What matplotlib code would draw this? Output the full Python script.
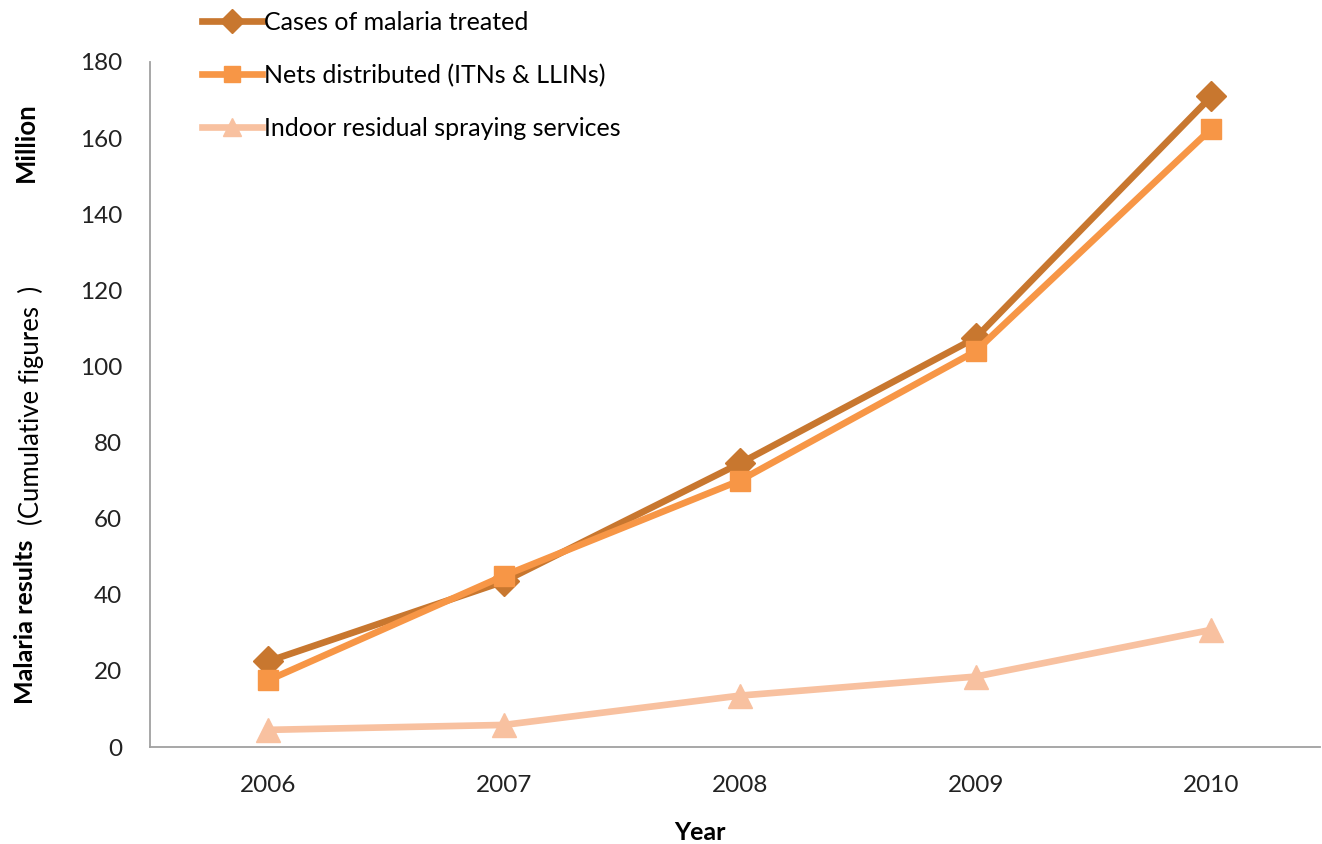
import matplotlib
matplotlib.use("Agg")
import matplotlib.pyplot as plt

years = [2006, 2007, 2008, 2009, 2010]
cases_treated = [22.5, 43.5, 74.5, 107.5, 171.0]
nets_distributed = [17.5, 45.0, 70.0, 104.0, 162.5]
indoor_spraying = [4.5, 5.8, 13.5, 18.5, 30.8]

series_names = ["Cases of malaria treated",
                "Nets distributed (ITNs & LLINs)",
                "Indoor residual spraying services"]

plt.rcParams['font.family'] = ['Lato', 'DejaVu Sans']

fig = plt.figure(figsize=(13.22, 8.44), dpi=100)
ax = fig.add_axes([150 / 1322, 1 - 747 / 844, 1170 / 1322, (747 - 62) / 844])

ax.plot(years, cases_treated, color='#C8772F', lw=4.8, marker='D', ms=15,
        label=series_names[0], zorder=3)
ax.plot(years, nets_distributed, color='#F79646', lw=4.8, marker='s', ms=15,
        label=series_names[1], zorder=4)
ax.plot(years, indoor_spraying, color='#F8C1A0', lw=4.8, marker='^', ms=17,
        label=series_names[2], zorder=2)

ax.set_xlim(2005.5, 2010.46)
ax.set_ylim(0, 180)
ax.set_yticks(range(0, 181, 20))
ax.set_xticks(years)
ax.tick_params(length=0, labelsize=17.5, colors='#222222')
ax.tick_params(axis='x', pad=20)
ax.tick_params(axis='y', pad=20)
for s in ['top', 'right']:
    ax.spines[s].set_visible(False)
for s in ['left', 'bottom']:
    ax.spines[s].set_color('#A0A0A0')
    ax.spines[s].set_linewidth(1.3)

leg = fig.legend(loc='upper left', bbox_to_anchor=(179 / 1322, 1.014), frameon=False,
                 fontsize=18, handlelength=2.4, handletextpad=0.1,
                 labelspacing=1.2, markerscale=0.8)

fig.text(700 / 1322, 1 - 833 / 844, "Year", ha='center', va='center',
         fontsize=18, fontweight='bold')
fig.text(26 / 1322, 1 - 622 / 844, "Malaria results", rotation=90, ha='center',
         va='center', fontsize=18, fontweight='bold')
fig.text(31 / 1322, 1 - 405 / 844, "(Cumulative figures  )", rotation=90,
         ha='center', va='center', fontsize=18.5)
fig.text(26 / 1322, 1 - 142 / 844, "Million", rotation=90, ha='center',
         va='center', fontsize=18.5, fontweight='bold')

fig.savefig("out.png", dpi=100, facecolor='white')
